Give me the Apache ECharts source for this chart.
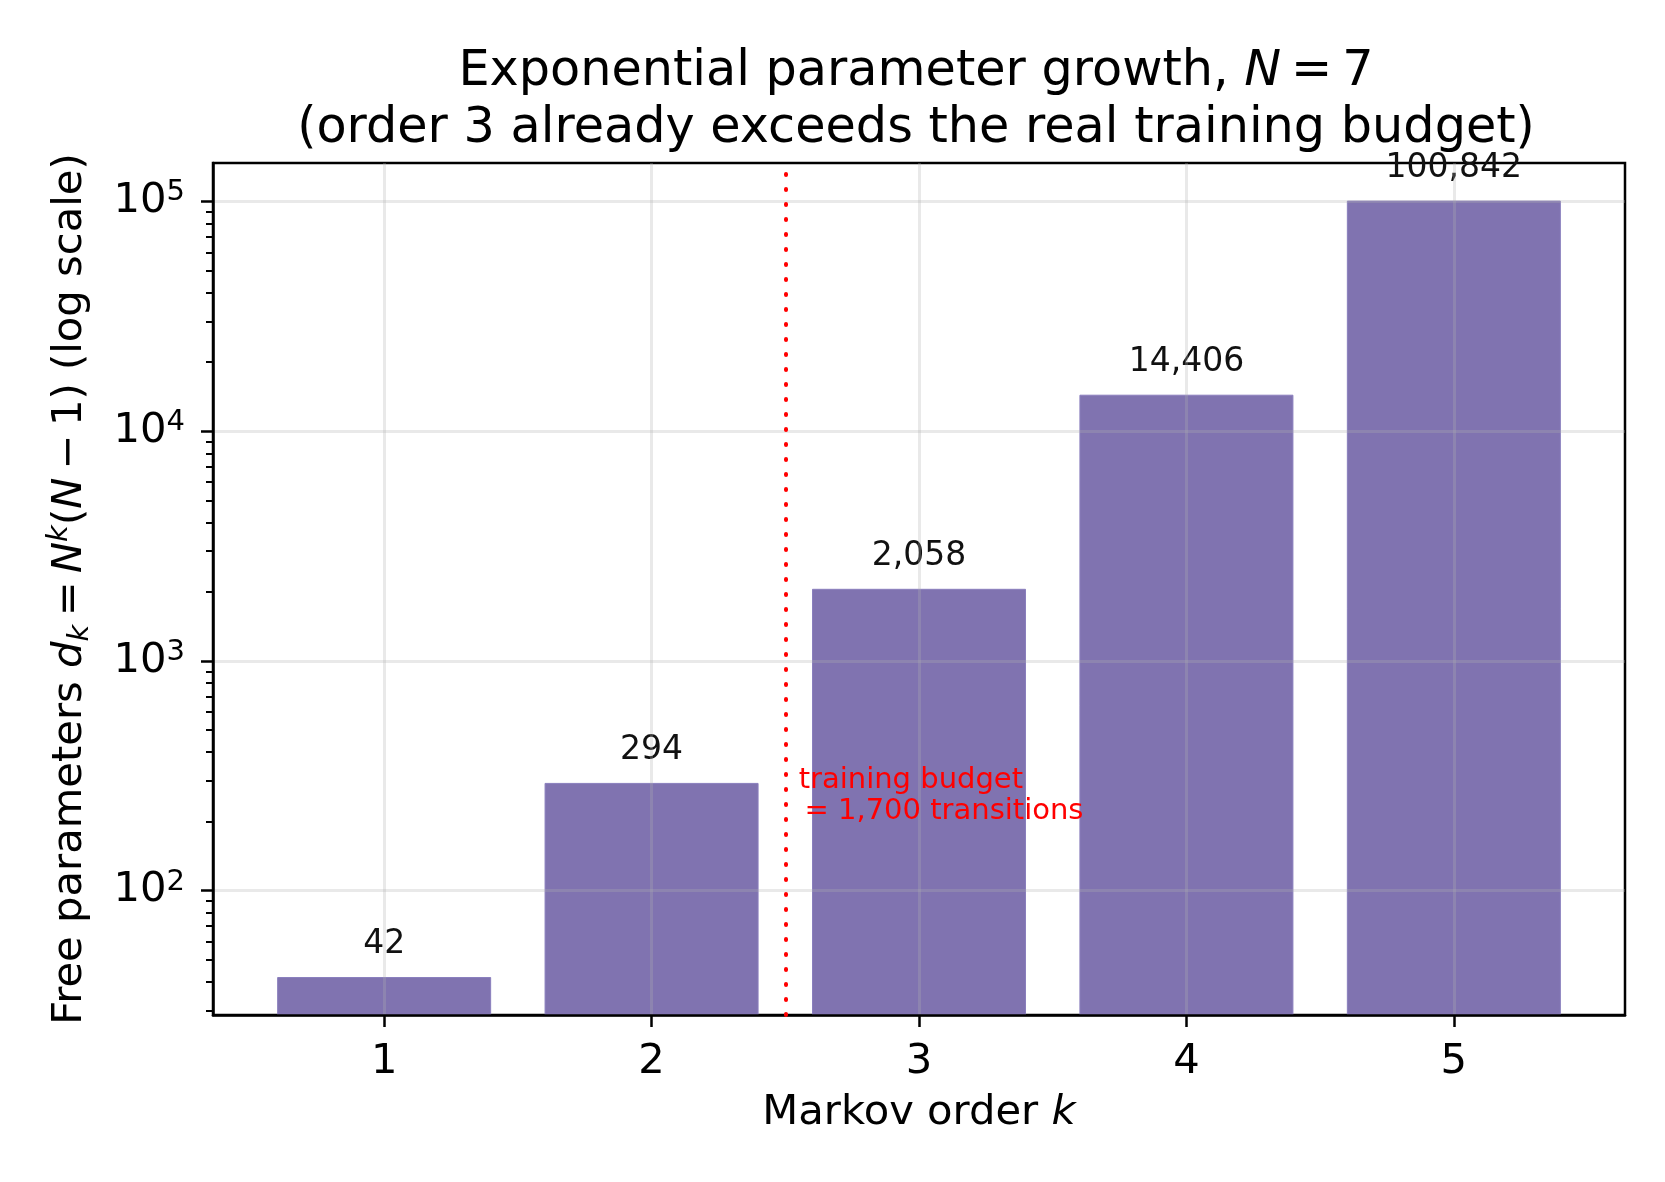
<!DOCTYPE html>
<html>
<head>
<meta charset="utf-8">
<title>Exponential parameter growth</title>
<script src="https://cdn.jsdelivr.net/npm/echarts@6/dist/echarts.min.js"></script>
<style>
html,body{margin:0;padding:0;background:#fff;}
#main{width:1665px;height:1182px;}
</style>
</head>
<body>
<div id="main"></div>
<script>
// 数据
var orders = [1, 2, 3, 4, 5];
var params = [42, 294, 2058, 14406, 100842];
var budgetOrder = 2.5;           // 虚线位置（阶数 2 和 3 之间）
var budgetLabel = ['training budget', '= 1,700 transitions'];
var yTicks = [100, 1000, 10000, 100000];
var minorMult = [2, 3, 4, 5, 6, 7, 8, 9];

var FONT = 'DejaVu Sans';

var seriesData = [];
for (var i = 0; i < orders.length; i++) {
	seriesData.push([orders[i], params[i]]);
}

// 次刻度 (20..90, 200..900, ...)
var yMinor = [];
for (var d = 10; d <= 100000; d *= 10) {
	for (var m = 0; m < minorMult.length; m++) {
		yMinor.push(d * minorMult[m]);
	}
}

var myChart = echarts.init(document.getElementById('main'), null, {renderer: 'canvas'});
var option = {
	backgroundColor: '#fff',
	animation: false,
	title: {
		text: 'Exponential parameter growth, {i|N}\u2009=\u20097\n(order 3 already exceeds the real training budget)',
		left: 911,
		top: 39,
		textAlign: 'center',
		textStyle: {
			fontFamily: FONT,
			fontSize: 49.3,
			fontWeight: 'normal',
			color: '#000',
			lineHeight: 57,
			rich: {
				i: {fontFamily: FONT, fontSize: 49.3, fontStyle: 'italic', color: '#000', lineHeight: 57}
			}
		}
	},
	grid: {
		left: 213,
		right: 40,
		top: 163,
		bottom: 167,
		show: true,
		borderColor: '#000',
		borderWidth: 2.5,
		backgroundColor: 'transparent'
	},
	xAxis: {
		type: 'value',
		min: 0.36,
		max: 5.64,
		z: 3,
		name: 'Markov order {i|k}',
		nameLocation: 'middle',
		nameGap: 77,
		nameTextStyle: {
			fontFamily: FONT, fontSize: 41.7, color: '#000',
			rich: {i: {fontFamily: FONT, fontSize: 41.7, fontStyle: 'italic', color: '#000'}}
		},
		axisLine: {show: true, lineStyle: {color: '#000', width: 2.5}},
		axisTick: {show: true, customValues: orders, length: 12, lineStyle: {color: '#000', width: 2.5}},
		axisLabel: {customValues: orders, margin: 26, fontFamily: FONT, fontSize: 41.7, color: '#000'},
		splitLine: {show: true, lineStyle: {color: 'rgba(176,176,176,0.28)', width: 3}}
	},
	yAxis: [
		{
			type: 'log',
			logBase: 10,
			min: 28.7,
			max: 147000,
			z: 3,
			name: 'Free parameters {i|d}{sub|k}\u2009=\u2009{i|N}{sup|k}({i|N}\u2009\u2212\u20091) (log scale)',
			nameLocation: 'middle',
			nameRotate: 90,
			nameGap: 118,
			nameTextStyle: {
				fontFamily: FONT, fontSize: 41.7, color: '#000', lineHeight: 50,
				rich: {
					i: {fontFamily: FONT, fontSize: 41.7, fontStyle: 'italic', color: '#000', lineHeight: 50},
					sup: {fontFamily: FONT, fontSize: 29, fontStyle: 'italic', color: '#000', verticalAlign: 'top', lineHeight: 29},
					sub: {fontFamily: FONT, fontSize: 29, fontStyle: 'italic', color: '#000', verticalAlign: 'bottom', lineHeight: 29}
				}
			},
			axisLine: {show: true, lineStyle: {color: '#000', width: 2.5}},
			axisTick: {show: true, customValues: yTicks, length: 12, lineStyle: {color: '#000', width: 2.5}},
			axisLabel: {
				customValues: yTicks,
				margin: 28,
				fontFamily: FONT,
				fontSize: 41.7,
				color: '#000',
				lineHeight: 46,
				formatter: function (v) {
					return '10{sup|' + Math.round(Math.log(v) / Math.LN10) + '}';
				},
				rich: {
					sup: {fontFamily: FONT, fontSize: 29, color: '#000', verticalAlign: 'top', lineHeight: 29}
				}
			},
			splitLine: {show: true, lineStyle: {color: 'rgba(176,176,176,0.28)', width: 3}}
		},
		{
			// 次刻度
			type: 'log',
			logBase: 10,
			min: 28.7,
			max: 147000,
			z: 3,
			position: 'left',
			axisLine: {show: false},
			axisTick: {show: true, customValues: yMinor, length: 7, lineStyle: {color: '#000', width: 2}},
			axisLabel: {show: false},
			splitLine: {show: false}
		}
	],
	series: [
		{
			name: 'params',
			type: 'bar',
			yAxisIndex: 0,
			barWidth: 214,
			clip: true,
			itemStyle: {color: '#8073b0', borderColor: '#8a7fbd', borderWidth: 1},
			label: {
				show: true,
				position: 'top',
				distance: 16,
				fontFamily: FONT,
				fontSize: 33,
				color: '#111',
				formatter: function (p) {
					return p.value[1].toLocaleString('en-US');
				}
			},
			data: seriesData,
			markLine: {
				silent: true,
				symbol: 'none',
				label: {show: false},
				lineStyle: {color: '#ff0000', type: [1, 14], width: 4, cap: 'round'},
				data: [{xAxis: budgetOrder}]
			},
			markPoint: {
				silent: true,
				symbol: 'circle',
				symbolSize: 0,
				label: {
					show: true,
					position: 'right',
					distance: 0,
					align: 'left',
					fontFamily: FONT,
					fontSize: 29,
					lineHeight: 31,
					color: '#ff0000',
					formatter: budgetLabel[0] + '\n\u2009' + budgetLabel[1]
				},
				data: [{coord: [2.55, 258]}]
			}
		}
	]
};
myChart.setOption(option);
</script>
</body>
</html>
